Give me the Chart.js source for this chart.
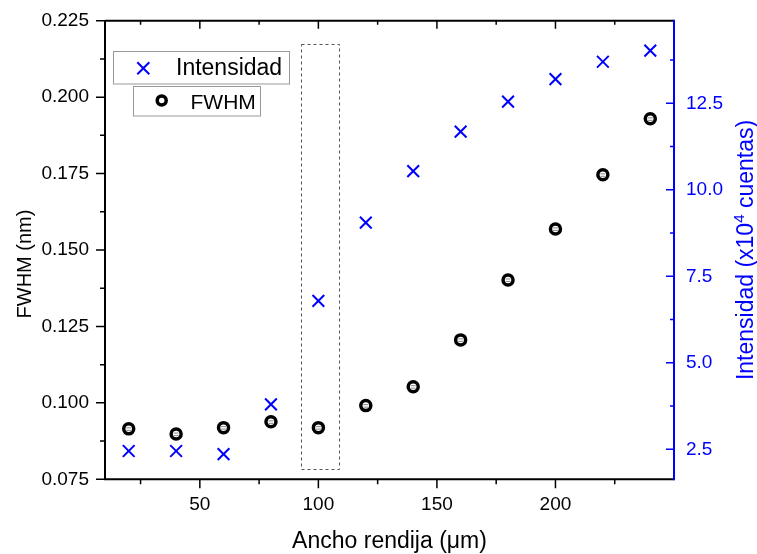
<!DOCTYPE html>
<html>
<head>
<meta charset="utf-8">
<script src="https://cdn.jsdelivr.net/npm/chart.js@4/dist/chart.umd.min.js"></script>
<style>
html,body{margin:0;padding:0;background:#fff;}
canvas{display:block;}
</style>
</head>
<body>
<canvas id="c" width="757" height="554"></canvas>
<script>
// ---- data ----
const xValues = [20, 40, 60, 80, 100, 120, 140, 160, 180, 200, 220, 240];
const fwhmValues = [0.0915, 0.0898, 0.0919, 0.0938, 0.0919, 0.0991, 0.1053, 0.1206, 0.1402, 0.1569, 0.1746, 0.1929];
const intensidadValues = [2.45, 2.45, 2.36, 3.80, 6.79, 9.05, 10.54, 11.68, 12.55, 13.20, 13.70, 14.02];

const xTicks = [50, 100, 150, 200];
const xMinorTicks = [25, 75, 125, 175, 225];
const yTicks = [0.075, 0.100, 0.125, 0.150, 0.175, 0.200, 0.225];
const yMinorTicks = [0.0875, 0.1125, 0.1375, 0.1625, 0.1875, 0.2125];
const y1Ticks = [2.5, 5.0, 7.5, 10.0, 12.5];
const y1MinorTicks = [3.75, 6.25, 8.75, 11.25, 13.75];

const xTitle = 'Ancho rendija (\u03BCm)';
const yTitle = 'FWHM (nm)';
const y1TitleParts = ['Intensidad (x10', '4', ' cuentas)'];
const seriesNames = ['Intensidad', 'FWHM'];
const highlightBox = {x0: 92.5, x1: 108.4, y0: 0.0783, y1: 0.2173};

const FONT = '"Liberation Sans", Arial, sans-serif';
const BLUE = '#0000ff';

const decor = {
  id: 'decor',
  beforeDatasetsDraw(chart) {
    const ctx = chart.ctx, xs = chart.scales.x, ys = chart.scales.y;
    ctx.save();
    ctx.strokeStyle = '#555';
    ctx.lineWidth = 1;
    ctx.setLineDash([3, 3]);
    const l = xs.getPixelForValue(highlightBox.x0), r = xs.getPixelForValue(highlightBox.x1);
    const t = ys.getPixelForValue(highlightBox.y1), b = ys.getPixelForValue(highlightBox.y0);
    ctx.strokeRect(Math.round(l) + 0.5, Math.round(t) + 0.5, Math.round(r - l), Math.round(b - t));
    ctx.restore();
  },
  afterDatasetsDraw(chart) {
    // tiny inner bars inside the FWHM circles
    const ctx = chart.ctx, xs = chart.scales.x, ys = chart.scales.y;
    ctx.save();
    ctx.strokeStyle = '#888';
    ctx.lineWidth = 1;
    ctx.beginPath();
    xValues.forEach((x, i) => {
      const px = xs.getPixelForValue(x), py = ys.getPixelForValue(fwhmValues[i]);
      ctx.moveTo(px - 2.5, py - 1); ctx.lineTo(px + 2.5, py - 1);
      ctx.moveTo(px - 2.5, py + 1.5); ctx.lineTo(px + 2.5, py + 1.5);
    });
    ctx.stroke();
    ctx.restore();
  },
  afterDraw(chart) {
    const ctx = chart.ctx, a = chart.chartArea;
    const xs = chart.scales.x, ys = chart.scales.y, y1 = chart.scales.y1;
    ctx.save();
    ctx.setLineDash([]);
    // frame
    ctx.lineWidth = 2;
    ctx.strokeStyle = '#000';
    ctx.beginPath();
    ctx.moveTo(a.left, a.top); ctx.lineTo(a.right, a.top);
    ctx.moveTo(a.left, a.top); ctx.lineTo(a.left, a.bottom + 1);
    ctx.moveTo(a.left - 1, a.bottom); ctx.lineTo(a.right, a.bottom);
    ctx.stroke();
    // x ticks bottom (outward) & top (inward)
    ctx.lineWidth = 1.5;
    ctx.beginPath();
    xTicks.forEach(v => { const p = xs.getPixelForValue(v);
      ctx.moveTo(p, a.bottom); ctx.lineTo(p, a.bottom + 9);
      ctx.moveTo(p, a.top); ctx.lineTo(p, a.top + 8); });
    xMinorTicks.forEach(v => { const p = xs.getPixelForValue(v);
      ctx.moveTo(p, a.bottom); ctx.lineTo(p, a.bottom + 5);
      ctx.moveTo(p, a.top); ctx.lineTo(p, a.top + 4); });
    // left y ticks (outward)
    yTicks.forEach(v => { const p = ys.getPixelForValue(v);
      ctx.moveTo(a.left, p); ctx.lineTo(a.left - 9, p); });
    yMinorTicks.forEach(v => { const p = ys.getPixelForValue(v);
      ctx.moveTo(a.left, p); ctx.lineTo(a.left - 5, p); });
    ctx.stroke();
    // right axis (blue, inward ticks)
    ctx.strokeStyle = BLUE;
    ctx.lineWidth = 2;
    ctx.beginPath();
    ctx.moveTo(a.right, a.top - 1); ctx.lineTo(a.right, a.bottom + 1);
    ctx.stroke();
    ctx.lineWidth = 1.5;
    ctx.beginPath();
    y1Ticks.forEach(v => { const p = y1.getPixelForValue(v);
      ctx.moveTo(a.right, p); ctx.lineTo(a.right - 8, p); });
    y1MinorTicks.forEach(v => { const p = y1.getPixelForValue(v);
      ctx.moveTo(a.right, p); ctx.lineTo(a.right - 4, p); });
    ctx.stroke();

    // axis titles
    ctx.fillStyle = '#000';
    ctx.font = '23px ' + FONT;
    ctx.textAlign = 'center';
    ctx.textBaseline = 'alphabetic';
    ctx.fillText(xTitle, (a.left + a.right) / 2, 548);
    ctx.save();
    ctx.font = '20px ' + FONT;
    ctx.translate(31, 264);
    ctx.rotate(-Math.PI / 2);
    ctx.fillText(yTitle, 0, 0);
    ctx.restore();
    // right title with superscript
    ctx.save();
    ctx.fillStyle = BLUE;
    ctx.translate(753, (a.top + a.bottom) / 2);
    ctx.rotate(-Math.PI / 2);
    ctx.textAlign = 'left';
    const big = '23px ' + FONT, small = '15px ' + FONT;
    ctx.font = big; const w0 = ctx.measureText(y1TitleParts[0]).width;
    ctx.font = small; const w1 = ctx.measureText(y1TitleParts[1]).width;
    ctx.font = big; const w2 = ctx.measureText(y1TitleParts[2]).width;
    let sx = -(w0 + w1 + w2) / 2;
    ctx.font = big; ctx.fillText(y1TitleParts[0], sx, 0); sx += w0;
    ctx.font = small; ctx.fillText(y1TitleParts[1], sx, -9); sx += w1;
    ctx.font = big; ctx.fillText(y1TitleParts[2], sx, 0);
    ctx.restore();

    // legend boxes
    ctx.lineWidth = 1;
    ctx.strokeStyle = '#999';
    ctx.fillStyle = '#fff';
    ctx.fillRect(113.5, 51.5, 176, 32.5);
    ctx.strokeRect(113.5, 51.5, 176, 32.5);
    ctx.fillRect(133.5, 86.5, 127, 29.5);
    ctx.strokeRect(133.5, 86.5, 127, 29.5);
    // legend markers
    ctx.strokeStyle = BLUE;
    ctx.lineWidth = 2;
    ctx.beginPath();
    ctx.moveTo(143.3 - 6, 68.3 - 6); ctx.lineTo(143.3 + 6, 68.3 + 6);
    ctx.moveTo(143.3 - 6, 68.3 + 6); ctx.lineTo(143.3 + 6, 68.3 - 6);
    ctx.stroke();
    ctx.strokeStyle = '#000';
    ctx.lineWidth = 3.5;
    ctx.beginPath();
    ctx.arc(161.7, 100.5, 4.5, 0, Math.PI * 2);
    ctx.stroke();
    ctx.fillStyle = '#000';
    ctx.textAlign = 'left';
    ctx.font = '23px ' + FONT;
    ctx.fillText(seriesNames[0], 176, 75);
    ctx.font = '21px ' + FONT;
    ctx.fillText(seriesNames[1], 190.5, 108.5);
    ctx.restore();
  }
};

new Chart(document.getElementById('c'), {
  type: 'scatter',
  data: {
    datasets: [
      {
        label: seriesNames[0],
        data: xValues.map((x, i) => ({x: x, y: intensidadValues[i]})),
        yAxisID: 'y1',
        pointStyle: 'crossRot',
        pointRadius: 8.3,
        borderColor: BLUE,
        backgroundColor: BLUE,
        borderWidth: 2,
        showLine: false
      },
      {
        label: seriesNames[1],
        data: xValues.map((x, i) => ({x: x, y: fwhmValues[i]})),
        yAxisID: 'y',
        pointStyle: 'circle',
        pointRadius: 5,
        borderColor: '#000',
        backgroundColor: 'rgba(255,255,255,0)',
        borderWidth: 3.5,
        showLine: false
      }
    ]
  },
  options: {
    responsive: false,
    animation: false,
    devicePixelRatio: 1,
    events: [],
    layout: {padding: {left: 0, right: 0, top: 20.7, bottom: 0}},
    plugins: {legend: {display: false}, tooltip: {enabled: false}},
    scales: {
      x: {
        type: 'linear', min: 10, max: 250,
        grid: {display: false, drawTicks: false},
        border: {display: false},
        afterBuildTicks: s => { s.ticks = xTicks.map(v => ({value: v})); },
        afterFit: s => { s.height = 74.7; s.paddingLeft = 0; s.paddingRight = 0; },
        ticks: {color: '#000', font: {family: FONT, size: 19}, padding: 14, maxRotation: 0,
                callback: v => String(v)}
      },
      y: {
        type: 'linear', position: 'left', min: 0.075, max: 0.225,
        grid: {display: false, drawTicks: false},
        border: {display: false},
        afterBuildTicks: s => { s.ticks = yTicks.map(v => ({value: v})); },
        afterFit: s => { s.width = 105; s.paddingTop = 0; s.paddingBottom = 0; },
        ticks: {color: '#000', font: {family: FONT, size: 19}, padding: 16,
                callback: v => Number(v).toFixed(3)}
      },
      y1: {
        type: 'linear', position: 'right', min: 1.633, max: 14.887,
        grid: {display: false, drawTicks: false},
        border: {display: false},
        afterBuildTicks: s => { s.ticks = y1Ticks.map(v => ({value: v})); },
        afterFit: s => { s.width = 83; s.paddingTop = 0; s.paddingBottom = 0; },
        ticks: {color: BLUE, font: {family: FONT, size: 19}, padding: 12,
                callback: v => Number(v).toFixed(1)}
      }
    }
  },
  plugins: [decor]
});
</script>
</body>
</html>
